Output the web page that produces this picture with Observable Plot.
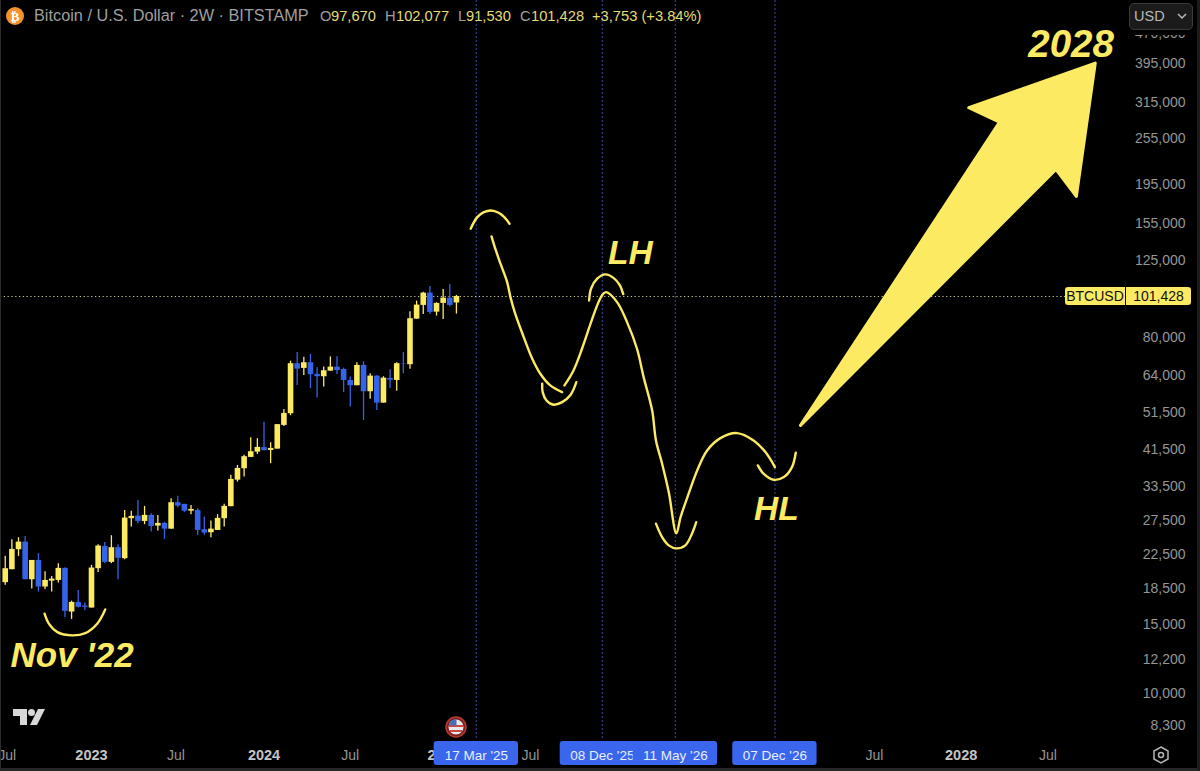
<!doctype html>
<html>
<head>
<meta charset="utf-8">
<script src="https://cdn.jsdelivr.net/npm/d3@7"></script>
<script src="https://cdn.jsdelivr.net/npm/@observablehq/plot@0.6"></script>
<style>
html,body{margin:0;padding:0;background:#000;}
#wrap{position:relative;width:1200px;height:771px;overflow:hidden;font-family:"Liberation Sans",Arial,sans-serif;}
#wrap svg{display:block;}
.hd{position:absolute;top:7px;font-size:14.7px;line-height:18px;white-space:nowrap;}
.g{color:#9f9f9f}.v{color:#e2dc76}
.t{font-size:16.3px;top:6px}
#frame{position:absolute;inset:0;border-left:1.5px solid #2c2c2c;border-right:3px solid #1c1c1c;border-bottom:3px solid #262626;pointer-events:none;}
#usd{position:absolute;left:1129px;top:3px;width:62px;height:25px;background:#1b1b1b;border:1px solid #3a3a3a;border-radius:5px;box-shadow:0 0 0 5px #000;color:#b8b8b8;font-size:14.5px;line-height:25px;text-indent:4px;}
.tag{position:absolute;height:18px;background:#fdea63;color:#111;font-size:14px;line-height:18px;text-align:center;}
</style>
</head>
<body>
<div id="wrap"></div>
<script>
// 2-week candles, oldest first
const opens  = [19100,20600,23150,24200,19430,21744,18620,19270,19350,20760,16090,17020,16660,16470,20720,23600,21500,23420,21970,27740,28170,27300,28280,26570,26990,26100,30450,30160,28990,29110,26010,25560,25900,27740,29760,34740,37130,39670,40910,41990,41310,41630,47810,51190,68530,66670,68920,64380,63520,65610,67180,66270,62140,60270,67850,58190,63750,54450,62890,62140,68530,68130,88880,96290,103450,92580,97420,100470,97670];
const highs  = [22270,24540,24830,25020,21744,22620,20360,19810,21340,20840,17150,18250,16960,21130,23840,24160,25120,23840,29110,28990,30860,29810,28560,28280,27150,31170,31600,30160,29980,29410,28010,27350,28400,30160,35720,37860,40140,44500,44240,48730,43220,48090,52480,69560,73190,71140,72350,66940,67180,71300,71410,66790,63370,68920,69320,64640,63900,63520,66150,68920,73190,92800,98710,104040,107580,97810,105690,108840,102077];
const lows   = [18800,20600,22270,19430,18400,18080,18360,18080,19050,15570,15410,16470,16220,16470,20280,21340,21340,19430,21840,26410,26950,26790,25650,25800,24580,26100,29580,28730,28400,25170,25170,24830,25900,26410,29760,34340,35360,39670,40370,41240,38240,41630,47530,50600,60380,64010,59320,56060,59780,65610,64380,57960,53200,60270,49210,55730,52160,54450,59320,58390,64640,66390,88880,91370,91370,90460,88720,95340,91530];
const closes = [20720,23190,24200,19430,21744,18620,19350,19500,20760,16150,17020,16540,16540,20800,23650,21500,23420,22010,27840,28120,27300,28280,26520,26990,26100,30450,29860,28990,29280,25900,25510,26100,27790,29810,34880,37200,39830,41000,42050,41240,41800,48020,51280,68530,66390,68920,64270,63520,65760,67180,65870,62140,60270,67850,58190,63750,54450,63000,62250,68530,68370,89090,96460,103450,92420,97420,100470,96290,101428];

const lastBar = new Date("2025-02-03");
const atDay = n => d3.utcDay.offset(lastBar, n);   // days relative to the last candle
const barDays = d3.range(69).map(i => (i - 68) * 14);
const lastClose = 101428;
const lastChange = "+3,753 (+3.84%)";

// axis labels
const priceTicks = [470000,395000,315000,255000,195000,155000,125000,80000,64000,51500,41500,33500,27500,22500,18500,15000,12200,10000,8300];
const monthTicks = ["2022-07-01","2023-06-22","2024-06-24","2025-07-09","2027-07-05","2028-07-05"];
const yearTicks  = [["2022-12-26","2023"],["2023-12-25","2024"],["2025-01-07","2025"],["2028-01-04","2028"]];
const eventDates = [["2025-03-17","17 Mar '25"],["2025-12-08","08 Dec '25"],["2026-05-11","11 May '26"],["2026-12-07","07 Dec '26"]];

// hand-drawn sketch strokes: [days after last candle, price]
const novArc   = [[-869,15939],[-860,15036],[-842,14315],[-811,14045],[-783,14233],[-758,15036],[-741,16340]];
const topArc   = [[30,150609],[44,161176],[58,165925],[73,167539],[89,165355],[101,161176],[112,155088]];
const firstDrop= [[74,144017],[82,134021],[93,122807],[107,110292],[114,101065],[124,91736],[142,80030],[160,70545],[177,64642],[198,60380],[223,58055]];
const lowArc   = [[181,60979],[182,58055],[190,55298],[205,53950],[223,54765],[241,57192],[253,61542]];
const lhArc    = [[280,99100],[284,106128],[297,112502],[314,115379],[332,112904],[345,108210],[352,102852]];
const mainPath = [[228,60380],[247,65874],[265,74783],[283,86537],[297,96292],[307,102077],[316,104043],[339,98145],[360,87336],[381,74783],[395,63373],[413,52164],[421,43789],[434,38237],[448,32395],[464,25462],[473,28003],[490,32098],[508,36758],[529,41307],[557,44394],[592,45709],[627,43789],[652,40909],[672,37487]];
const vArc     = [[421,26945],[434,24918],[448,23742],[464,23327],[483,23742],[497,25418],[506,27193]];
const hlArc    = [[636,37862],[648,36071],[669,34821],[691,35362],[708,37487],[716,40769]];
const arrowShape = [[726,47814],[1146,280520],[1081,305138],[1348,395829],[1308,181873],[1265,212850],[726,47814]];
const notes = [[-811,12492,"Nov '22",35],[367,130411,"LH",33.5],[675,29283,"HL",33.5],[1297,441300,"2028",38.5]];

const YEL = "#fdea63", BLUE = "#3563e9", SANS = "Liberation Sans";
const candles = barDays.map((d,i)=>({date:atDay(d),o:opens[i],h:highs[i],l:lows[i],c:closes[i],col:closes[i]>=opens[i]?YEL:BLUE}));
const xd = d=>atDay(d[0]), yd = d=>d[1];
const sketch = a => Plot.line(a,{x:xd,y:yd,curve:"catmull-rom",stroke:YEL,strokeWidth:2.4,strokeLinecap:"round"});
const rowY = 7600; // lower end of the event guide lines
const boxLo = 6571, boxHi = 7560;
const axisFont = {fontSize:14,fontFamily:SANS};

const marks = [
  Plot.ruleX(eventDates,{x:d=>new Date(d[0]),y1:570000,y2:rowY,stroke:"#3a4aa0",strokeWidth:1.4,strokeDasharray:"1.5 2.5"}),
  Plot.ruleY([lastClose],{x1:atDay(-962),x2:atDay(1285),stroke:"#cfcb96",strokeWidth:1,strokeDasharray:"1.2 2.6"}),
  Plot.ruleX(candles,{x:"date",y1:"l",y2:"h",stroke:"col",strokeWidth:1.3}),
  Plot.ruleX(candles,{x:"date",y1:"o",y2:"c",stroke:"col",strokeWidth:5.6}),
  sketch(novArc),sketch(topArc),sketch(firstDrop),sketch(lowArc),sketch(lhArc),sketch(mainPath),sketch(vArc),sketch(hlArc),
  Plot.line(arrowShape,{x:xd,y:yd,fill:YEL,stroke:YEL,strokeWidth:3,strokeLinejoin:"round"}),
  Plot.text(notes,{x:xd,y:yd,text:d=>d[2],fontSize:d=>d[3],fontFamily:SANS,fontWeight:"bold",fontStyle:"italic",fill:YEL,textAnchor:"middle",lineAnchor:"middle"}),
  Plot.text(priceTicks,{y:d=>d,text:d=>d3.format(",")(d),frameAnchor:"right",dx:-15,textAnchor:"end",lineAnchor:"middle",fill:"#969696",...axisFont}),
  Plot.text(monthTicks,{x:d=>new Date(d),frameAnchor:"bottom",dy:-16,lineAnchor:"middle",text:()=>"Jul",fill:"#969696",...axisFont}),
  Plot.text(yearTicks,{x:d=>new Date(d[0]),frameAnchor:"bottom",dy:-16,lineAnchor:"middle",text:d=>d[1],fill:"#c4c4c4",fontWeight:"bold",...axisFont,fontSize:14.5})
];
for (const e of eventDates) {
  const c = new Date(e[0]);
  marks.push(
    Plot.rect([e],{x1:()=>d3.utcDay.offset(c,-89),x2:()=>d3.utcDay.offset(c,89),y1:boxLo,y2:boxHi,fill:"#3a66ee",rx:3}),
    Plot.text([e],{x:()=>c,frameAnchor:"bottom",dy:-16,lineAnchor:"middle",text:d=>d[1],fill:"#e8eeff",fontSize:13.5,fontFamily:SANS})
  );
}

const chart = Plot.plot({
  width:1200,height:771,margin:0,
  style:{background:"#000"},
  color:{type:"identity"},
  x:{type:"time",domain:[atDay(-962),atDay(1570)],range:[0,1200],axis:null},
  y:{type:"log",domain:[6346,570460],range:[771,0],axis:null},
  marks
});
const wrap = document.getElementById("wrap");
wrap.appendChild(chart);

const fmt = d3.format(",");
const last = candles[candles.length-1];
const tagY = chart.scale("y").apply(lastClose);
const header = [
  [34,"g t","Bitcoin / U.S. Dollar · 2W · BITSTAMP"],
  [320,"g","O"],[331,"v",fmt(last.o)],
  [385,"g","H"],[396,"v",fmt(last.h)],
  [458,"g","L"],[466,"v",fmt(last.l)],
  [520,"g","C"],[531,"v",fmt(last.c)],
  [592,"v",lastChange]
];
const add = h => wrap.insertAdjacentHTML("beforeend",h);
header.forEach(([x,c,t])=>add(`<span class="hd ${c}" style="left:${x}px">${t}</span>`));
add(`<div class="tag" style="left:1065px;top:${tagY-9}px;width:60px;border-radius:3px 0 0 3px">BTCUSD</div>`);
add(`<div class="tag" style="left:1126px;top:${tagY-9}px;width:65px;border-radius:0 3px 3px 0">${fmt(lastClose)}</div>`);
add(`<div id="usd">USD<svg style="position:absolute;left:47px;top:9px" width="10" height="7"><path d="M1 1l4 4 4-4" fill="none" stroke="#b8b8b8" stroke-width="1.5"/></svg></div>`);
add(`<svg style="position:absolute;left:0;top:0;pointer-events:none" width="1200" height="771">
  <circle cx="15" cy="16" r="9" fill="#f2932e"/><text x="15" y="20.5" font-size="13" font-weight="bold" fill="#fff" text-anchor="middle" font-family="DejaVu Sans">₿</text>
  <g fill="#d8d8d8"><path d="M13 709h14v16h-7v-9h-7z"/><circle cx="31.5" cy="712.5" r="3.5"/><path d="M38 709h7l-8 16h-7z"/></g>
  <circle cx="456" cy="727" r="10" fill="#7a2020" stroke="#b83a34" stroke-width="1.5"/>
  <circle cx="456" cy="727" r="7.5" fill="#e8e8e8"/><path d="M449 725h14v2h-14zM450 730h12v2h-12z" fill="#c94a45"/><path d="M449.5 722a7.5 7.5 0 0 1 7-2.5v6h-7.5z" fill="#4a6fb5"/>
  <path d="M1161 747l7 4v8l-7 4-7-4v-8z" fill="none" stroke="#b5b5b5" stroke-width="1.5"/><circle cx="1161" cy="755" r="2.5" fill="none" stroke="#b5b5b5" stroke-width="1.5"/>
</svg>`);
add(`<div id="frame"></div>`);
</script>
</body>
</html>
